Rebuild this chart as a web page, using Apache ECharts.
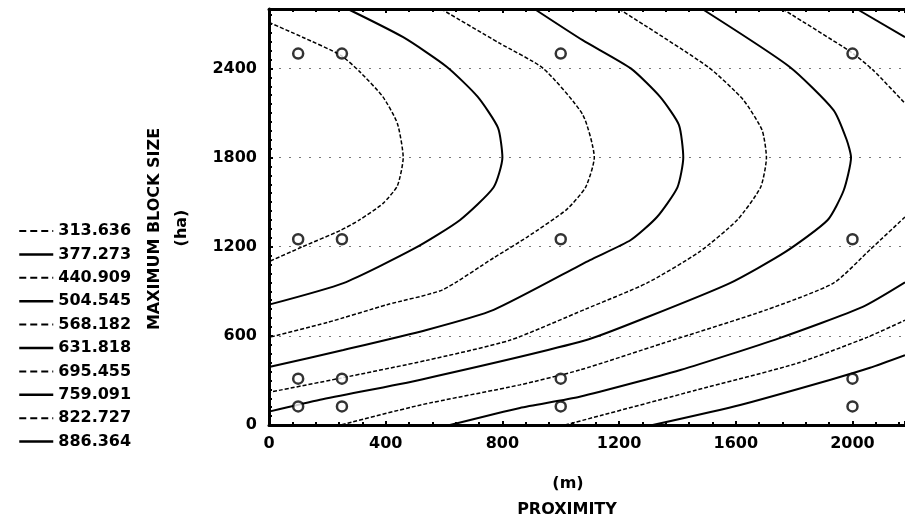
<!DOCTYPE html>
<html>
<head>
    <meta charset="UTF-8">
    <title>block size vs proximity</title>
    <script src="https://cdn.jsdelivr.net/npm/echarts@6/dist/echarts.min.js"></script>
    <style>
        body { margin: 0; background: #fff; }
        #chart { width: 905px; height: 524px; }
    </style>
</head>
<body>
    <div id="chart"></div>
    <script>
        // contour levels (legend order)
        var levels = ['313.636', '377.273', '440.909', '504.545', '568.182',
                      '631.818', '695.455', '759.091', '822.727', '886.364'];

        // contour lines, [proximity m, block size ha]
        var c1 = [[0,2710],[115,2610],[245,2490],[310,2380],[390,2210],[440,2030],[460,1800],[440,1610],[390,1490],[310,1380],[245,1310],[115,1200],[0,1100]];
        var c2 = [[270,2800],[460,2610],[610,2410],[715,2210],[785,2000],[800,1800],[770,1600],[655,1380],[500,1190],[255,955],[0,810]];
        var c3 = [[590,2800],[790,2570],[940,2400],[1075,2090],[1115,1800],[1085,1600],[1020,1450],[885,1265],[770,1125],[595,910],[405,810],[200,690],[0,590]];
        var c4 = [[910,2800],[1075,2590],[1240,2400],[1340,2210],[1405,2020],[1420,1800],[1400,1600],[1330,1400],[1240,1245],[1100,1110],[770,775],[540,640],[255,505],[0,390]];
        var c5 = [[1200,2800],[1505,2410],[1625,2190],[1690,1985],[1705,1800],[1685,1600],[1605,1380],[1475,1165],[1295,955],[1085,780],[825,570],[540,435],[245,315],[0,220]];
        var c6 = [[1485,2800],[1785,2410],[1935,2120],[1980,1920],[1995,1800],[1970,1580],[1915,1380],[1770,1165],[1580,955],[1295,725],[1085,570],[520,305],[175,170],[0,90]];
        var c7top = [[1760,2800],[1995,2510],[2070,2390],[2180,2165]];
        var c7low = [[2180,1400],[2060,1180],[1935,955],[1705,775],[1350,550],[1065,370],[860,270],[520,135],[245,0]];
        var c8top = [[2015,2800],[2180,2610]];
        var c8low = [[2180,960],[2035,795],[1750,585],[1410,370],[1065,190],[860,115],[620,0]];
        var c9 = [[1015,0],[1465,235],[1810,415],[2050,590],[2180,705]];
        var c10 = [[1315,0],[1615,135],[1925,305],[2060,385],[2180,470]];

        // sample points (circles)
        var proxX = [100, 250, 1000, 2000];
        var blockY = [125, 312, 1250, 2500];

        var font = 'DejaVu Sans';
        var chart = echarts.init(document.getElementById('chart'), null, {renderer: 'canvas'});

        var lines = [[c1], [c2], [c3], [c4], [c5], [c6], [c7top, c7low], [c8top, c8low], [c9], [c10]];
        var series = [];
        lines.forEach(function (parts, i) {
            var dashed = i % 2 === 0;
            parts.forEach(function (d) {
                series.push({
                    name: levels[i],
                    type: 'line',
                    data: d,
                    symbol: 'none',
                    smooth: 0.2,
                    silent: true,
                    itemStyle: {color: '#000'},
                    lineStyle: {color: '#000', width: dashed ? 1.5 : 2, type: dashed ? [4, 2] : 'solid'}
                });
            });
        });

        var pts = [];
        proxX.forEach(function (x) {
            blockY.forEach(function (y) { pts.push([x, y]); });
        });
        series.push({
            type: 'scatter',
            data: pts,
            symbol: 'circle',
            symbolSize: 10,
            z: 5,
            itemStyle: {color: '#fff', borderColor: '#000', borderWidth: 2.5}
        });

        // legend entries: wider dashes than the plot lines
        var legendData = levels.map(function (name, i) {
            return {
                name: name,
                lineStyle: i % 2 === 0 ? {type: [7, 4], width: 2} : {type: 'solid', width: 2.5}
            };
        });

        var labelStyle = {fontFamily: font, fontWeight: 'bold', fontSize: 16, color: '#000',
                          formatter: function (v) { return String(v); }};
        var axisBase = {
            type: 'value',
            axisLine: {show: true, onZero: false, lineStyle: {color: '#000', width: 3}},
            axisTick: {show: true, inside: true, length: 4, lineStyle: {color: '#000', width: 2}},
            splitLine: {show: false}
        };

        chart.setOption({
            animation: false,
            grid: {left: 269, right: 0, top: 9, bottom: 99},
            legend: {
                data: legendData,
                orient: 'vertical',
                left: 13,
                top: 218,
                itemWidth: 34,
                itemHeight: 14,
                itemGap: 7.4,
                selectedMode: false,
                itemStyle: {opacity: 0},
                textStyle: {fontFamily: font, fontWeight: 'bold', fontSize: 16, color: '#000'}
            },
            xAxis: [
                Object.assign({}, axisBase, {
                    min: 0, max: 2180, interval: 400, position: 'bottom',
                    minorTick: {show: true, splitNumber: 5, length: 3, lineStyle: {color: '#000', width: 2}},
                    axisLabel: Object.assign({margin: 11, showMaxLabel: false}, labelStyle)
                }),
                Object.assign({}, axisBase, {
                    min: 0, max: 2180, interval: 400, position: 'top',
                    minorTick: {show: true, splitNumber: 5, length: 3, lineStyle: {color: '#000', width: 2}},
                    axisLabel: {show: false}
                })
            ],
            yAxis: Object.assign({}, axisBase, {
                min: 0, max: 2800, interval: 600,
                minorTick: {show: true, splitNumber: 10, length: 3, lineStyle: {color: '#000', width: 2}},
                axisLabel: Object.assign({margin: 12, showMaxLabel: false}, labelStyle),
                splitLine: {show: true, lineStyle: {color: '#777', width: 1, type: [2, 8]}}
            }),
            graphic: [
                {type: 'text', x: 155, y: 229, rotation: Math.PI / 2,
                 style: {text: 'MAXIMUM BLOCK SIZE', align: 'center', verticalAlign: 'middle', fill: '#000', font: 'bold 16px "DejaVu Sans"'}},
                {type: 'text', x: 182, y: 228, rotation: Math.PI / 2,
                 style: {text: '(ha)', align: 'center', verticalAlign: 'middle', fill: '#000', font: 'bold 16px "DejaVu Sans"'}},
                {type: 'text', x: 568, y: 484,
                 style: {text: '(m)', align: 'center', verticalAlign: 'middle', fill: '#000', font: 'bold 16px "DejaVu Sans"'}},
                {type: 'text', x: 567, y: 510,
                 style: {text: 'PROXIMITY', align: 'center', verticalAlign: 'middle', fill: '#000', font: 'bold 16px "DejaVu Sans"'}}
            ],
            series: series
        });
    </script>
</body>
</html>
